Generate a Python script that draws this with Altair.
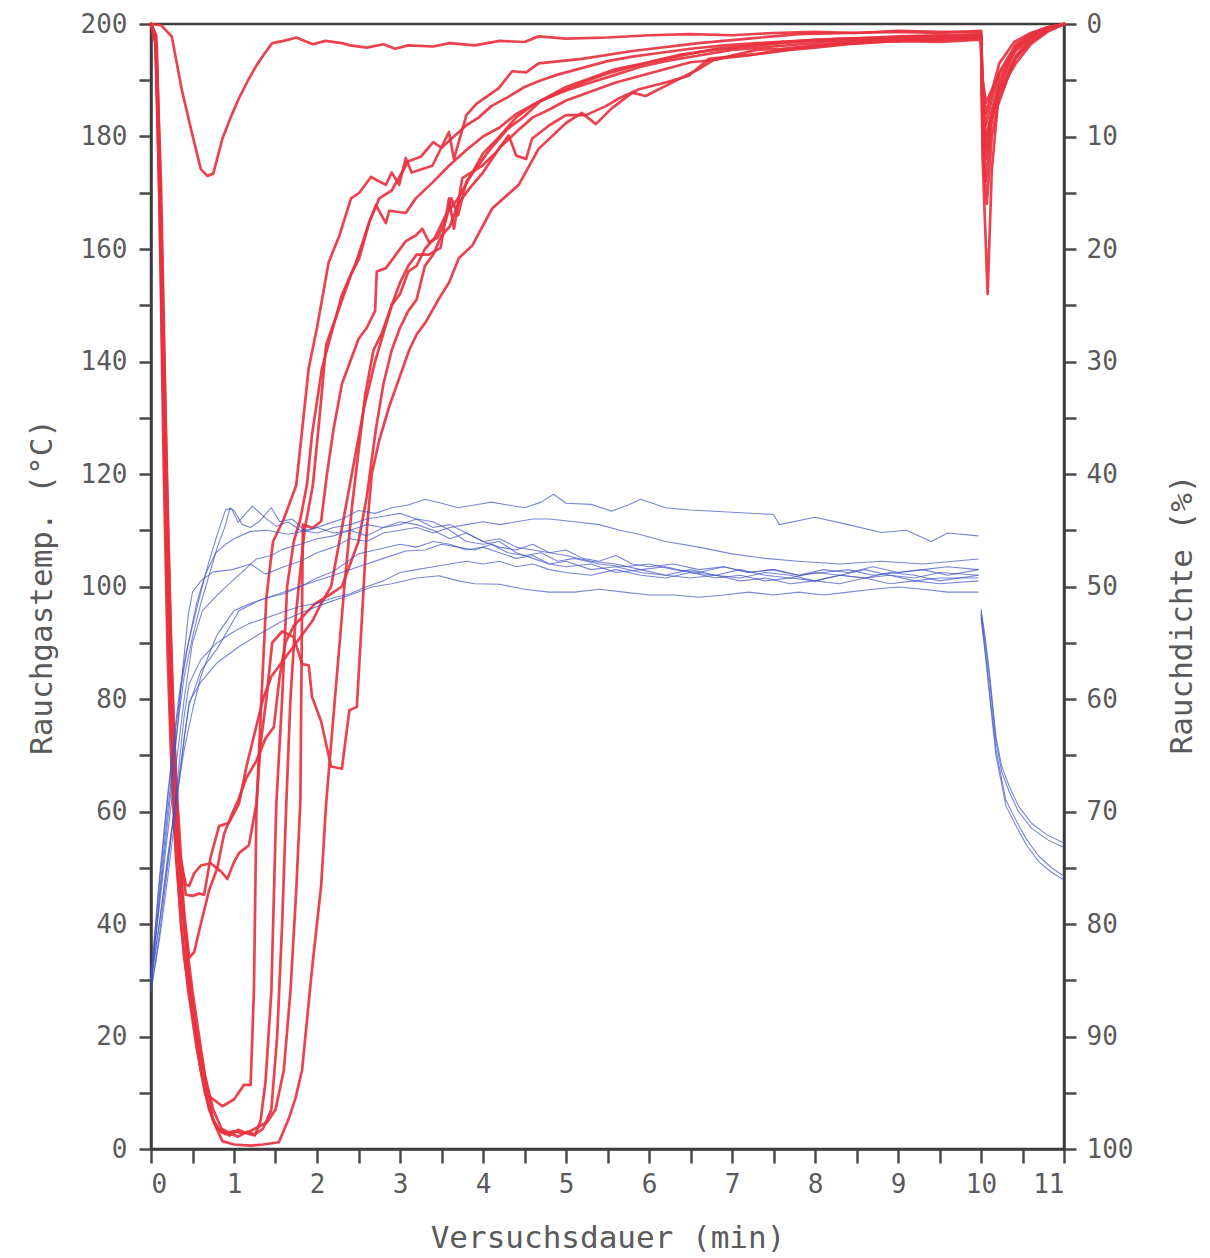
import altair as alt
import pandas as pd

# ---------------- Rauchdichte (%) : red curves (right axis, inverted) ----------------
red_R1 = [(0, 0), (0.12, 0.1), (0.25, 1.1), (0.37, 5.8), (0.49, 9.6), (0.6, 12.9), (0.68, 13.5), (0.75, 13.3),
          (0.86, 10.2), (0.96, 8.3), (1.06, 6.6), (1.17, 5.0), (1.27, 3.7), (1.37, 2.6), (1.46, 1.7), (1.6, 1.5),
          (1.75, 1.2), (1.95, 1.8), (2.1, 1.5), (2.3, 1.7), (2.4, 1.9), (2.6, 2.1), (2.8, 1.8), (2.94, 2.2),
          (3.1, 1.9), (3.4, 2.0), (3.6, 1.7), (3.9, 1.9), (4.2, 1.5), (4.5, 1.6), (4.67, 1.1), (5.0, 1.3),
          (5.5, 1.2), (6.0, 1.0), (6.5, 0.9), (7.0, 1.0), (7.5, 0.8), (8.0, 0.7), (8.5, 0.8), (9.0, 0.6),
          (9.5, 0.7), (10.0, 0.7), (10.02, 5), (10.06, 8), (10.13, 6), (10.22, 3.5), (10.4, 1.6), (10.6, 0.8),
          (10.8, 0.3), (11.0, 0)]

red_M1 = [(0, 0), (0.05, 1), (0.1, 15), (0.15, 38), (0.2, 56), (0.25, 67), (0.3, 74), (0.4, 83), (0.5, 88),
          (0.6, 92), (0.7, 95.3), (0.86, 96.2), (1.0, 95.6), (1.12, 94.3), (1.2, 94.3), (1.24, 86), (1.27, 70),
          (1.33, 60), (1.39, 51), (1.47, 46), (1.6, 44), (1.75, 41), (1.9, 30.6), (2.0, 27), (2.14, 21.2),
          (2.27, 18.8), (2.41, 15.5), (2.51, 15), (2.65, 13.6), (2.83, 14.3), (2.9, 13.2), (2.99, 14.3),
          (3.07, 11.9), (3.14, 13.2), (3.39, 12.6), (3.59, 9.6), (3.65, 12), (3.8, 8.1), (3.92, 7.1),
          (4.19, 5.7), (4.35, 4.2), (4.52, 4.3), (4.67, 3.5), (5.19, 3.1), (5.8, 2.4), (6.6, 1.7), (7.2, 1.3),
          (7.8, 0.9), (8.4, 0.8), (9.0, 0.7), (9.5, 0.8), (10.0, 0.6), (10.02, 9), (10.06, 14), (10.12, 9),
          (10.22, 5.5), (10.4, 2.5), (10.6, 1.2), (10.8, 0.5), (11.0, 0)]

red_M2 = [(0, 0), (0.06, 2), (0.12, 22), (0.18, 45), (0.24, 62), (0.3, 73), (0.36, 80), (0.45, 86), (0.55, 91),
          (0.65, 95), (0.75, 97.5), (0.85, 98.5), (0.95, 98.8), (1.05, 98.3), (1.15, 98.6), (1.25, 98.8),
          (1.32, 97.5), (1.38, 94), (1.45, 86), (1.51, 69.3), (1.58, 60), (1.64, 50), (1.72, 46), (1.8, 44),
          (1.88, 40.9), (1.94, 36.5), (2.06, 30.6), (2.17, 27.6), (2.3, 24.1), (2.47, 21.2), (2.63, 17.6),
          (2.71, 16.1), (2.83, 17.7), (2.87, 16.6), (3.07, 16.8), (3.19, 15.5), (3.39, 14.1), (3.59, 12.6),
          (3.8, 11.2), (4.0, 10), (4.2, 9.2), (4.4, 8), (4.6, 7.2), (4.8, 6.5), (5.0, 5.9), (5.3, 5.2),
          (5.6, 4.5), (5.9, 3.8), (6.2, 3.3), (6.6, 2.8), (7.0, 2.3), (7.5, 2.0), (8.0, 1.7), (8.5, 1.5),
          (9.0, 1.3), (9.5, 1.4), (10.0, 1.2), (10.02, 11), (10.07, 16), (10.13, 10), (10.22, 6.5),
          (10.42, 3), (10.6, 1.5), (10.8, 0.6), (11.0, 0)]

red_M3 = [(0, 0), (0.06, 1), (0.12, 17), (0.18, 40), (0.24, 58), (0.3, 69), (0.37, 77), (0.45, 84), (0.55, 89.5),
          (0.65, 93.5), (0.75, 96.5), (0.85, 98.2), (0.95, 98.6), (1.05, 98.9), (1.15, 98.5), (1.25, 98.7),
          (1.35, 98.2), (1.45, 96.5), (1.52, 90), (1.58, 80), (1.63, 69.3), (1.68, 60), (1.74, 53), (1.78, 50),
          (1.85, 45), (1.95, 41), (2.03, 35), (2.11, 28.5), (2.27, 25.2), (2.41, 22.3), (2.51, 20.8),
          (2.63, 17.6), (2.75, 15.5), (2.9, 14.8), (3.0, 13.5), (3.1, 12.2), (3.25, 11.8), (3.4, 10.5),
          (3.5, 11), (3.65, 10), (3.8, 9), (3.95, 8.3), (4.1, 7.3), (4.3, 6.5), (4.5, 5.6), (4.7, 5),
          (4.9, 4.5), (5.2, 3.9), (5.5, 3.3), (5.8, 2.9), (6.1, 2.6), (6.5, 2.2), (6.9, 1.9), (7.3, 1.7),
          (7.8, 1.5), (8.3, 1.3), (8.8, 1.2), (9.3, 1.1), (10.0, 1.0), (10.02, 8), (10.06, 11), (10.12, 8),
          (10.22, 5), (10.42, 2.2), (10.6, 1), (10.8, 0.4), (11.0, 0)]

red_M4 = [(0, 0), (0.05, 1), (0.1, 12), (0.15, 33), (0.2, 52), (0.26, 64), (0.32, 72), (0.4, 80), (0.5, 86),
          (0.6, 91), (0.66, 94), (0.75, 97.5), (0.86, 99.3), (1.0, 99.6), (1.2, 99.7), (1.35, 99.6),
          (1.54, 99.4), (1.66, 97.3), (1.74, 95.5), (1.82, 93), (1.94, 84), (2.05, 76.6), (2.11, 69.3),
          (2.17, 64), (2.25, 57), (2.33, 50), (2.42, 43), (2.5, 38), (2.58, 33), (2.68, 29), (2.78, 27.5),
          (2.9, 25), (3.0, 24), (3.1, 22), (3.2, 21.5), (3.3, 20), (3.42, 19), (3.55, 17), (3.7, 15.5),
          (3.85, 13.5), (4.0, 11.5), (4.2, 10), (4.4, 8.3), (4.6, 7.2), (4.8, 6.4), (5.0, 5.6), (5.3, 4.8),
          (5.6, 4.0), (6.0, 3.4), (6.4, 2.8), (6.8, 2.2), (7.2, 1.9), (7.6, 1.6), (8.0, 1.4), (8.5, 1.3),
          (9.0, 1.1), (9.5, 1.0), (10.0, 0.9), (10.02, 12), (10.08, 24), (10.13, 13), (10.2, 7.3),
          (10.4, 3.2), (10.6, 1.6), (10.8, 0.6), (11.0, 0)]

red_M5 = [(0, 0), (0.06, 1.5), (0.11, 16), (0.17, 39), (0.23, 57), (0.29, 68), (0.35, 76), (0.42, 82), (0.5, 88),
          (0.6, 93), (0.7, 96.5), (0.8, 98.2), (0.9, 98.6), (1.0, 98.4), (1.1, 98.6), (1.2, 98.4), (1.3, 98),
          (1.4, 97.6), (1.5, 96.5), (1.6, 93), (1.68, 86), (1.75, 77), (1.8, 69), (1.81, 60), (1.82, 52),
          (1.83, 44.5), (1.95, 44.8), (2.05, 44.2), (2.12, 40), (2.2, 36), (2.3, 32), (2.4, 30), (2.5, 28),
          (2.6, 27), (2.7, 25.5), (2.72, 22), (2.83, 21.7), (2.95, 20.5), (3.07, 19.3), (3.19, 18.8),
          (3.27, 18.2), (3.35, 19.4), (3.45, 19), (3.55, 17.5), (3.62, 15.5), (3.7, 17), (3.8, 14),
          (3.95, 12.5), (4.1, 11), (4.3, 9.3), (4.5, 8.2), (4.7, 6.8), (4.95, 6), (5.2, 5.2), (5.5, 4.4),
          (5.8, 3.8), (6.1, 3.2), (6.4, 2.7), (6.8, 2.3), (7.2, 2.0), (7.6, 1.7), (8.0, 1.5), (8.5, 1.4),
          (9.0, 1.3), (9.5, 1.2), (10.0, 1.1), (10.02, 6), (10.06, 9), (10.12, 7), (10.22, 4.3),
          (10.42, 1.8), (10.6, 0.9), (10.8, 0.3), (11.0, 0)]

red_Rb1 = [(0, 0), (0.06, 1.5), (0.12, 18), (0.18, 42), (0.24, 60), (0.3, 70), (0.36, 74.5), (0.42, 76.5),
           (0.46, 76.6), (0.52, 75.5), (0.6, 74.8), (0.72, 74.6), (0.84, 75.3), (0.92, 76), (1.0, 74.5),
           (1.06, 73.7), (1.18, 73), (1.27, 69.3), (1.32, 64), (1.39, 60), (1.46, 55), (1.58, 54),
           (1.72, 54.5), (1.82, 56.9), (1.9, 57), (1.94, 59.8), (2.05, 62), (2.17, 66), (2.3, 66.2),
           (2.39, 61), (2.48, 60.7), (2.54, 53), (2.6, 45), (2.66, 40), (2.75, 37), (2.87, 34), (2.99, 31.5),
           (3.11, 29), (3.2, 27.6), (3.31, 26.5), (3.47, 24.4), (3.59, 23), (3.71, 20.8), (3.87, 19.7),
           (4.11, 16.4), (4.43, 14.3), (4.67, 11.1), (5.0, 8.8), (5.19, 7.9), (5.36, 8.9), (5.55, 7.5),
           (5.8, 6.1), (5.96, 6.4), (6.2, 5.5), (6.6, 4.0), (6.8, 3.1), (7.2, 2.8), (7.6, 2.3), (8.0, 2.0),
           (8.5, 1.6), (9.0, 1.5), (9.5, 1.3), (10.0, 1.2), (10.02, 8), (10.06, 12), (10.13, 8.5),
           (10.22, 5.8), (10.42, 2.8), (10.6, 1.3), (10.8, 0.5), (11.0, 0)]

red_Rb2 = [(0, 0), (0.06, 1), (0.12, 14), (0.18, 36), (0.24, 55), (0.3, 67), (0.36, 74), (0.42, 77.4),
           (0.5, 77.5), (0.58, 77.3), (0.64, 77.4), (0.72, 74), (0.82, 71.3), (0.94, 71), (1.06, 69.3),
           (1.15, 66), (1.25, 63), (1.35, 60), (1.45, 58), (1.55, 57), (1.65, 56), (1.75, 55), (1.85, 54),
           (1.95, 53), (2.05, 51.5), (2.17, 50), (2.27, 46), (2.37, 42), (2.47, 38), (2.57, 34), (2.7, 30),
           (2.8, 27.5), (2.9, 25), (3.0, 23), (3.1, 21.5), (3.2, 20.5), (3.35, 20.5), (3.49, 19.9),
           (3.59, 15.5), (3.65, 18.2), (3.75, 13.7), (3.99, 12.6), (4.16, 11.4), (4.31, 9.9), (4.4, 11.7),
           (4.52, 12), (4.59, 10.2), (4.8, 9), (5.0, 8.1), (5.24, 8.1), (5.48, 7.3), (5.64, 6.6),
           (5.88, 5.8), (6.2, 5.2), (6.48, 4.6), (6.72, 3.1), (7.1, 2.8), (7.4, 2.6), (7.7, 2.3), (8.0, 2.1),
           (8.4, 1.8), (8.8, 1.6), (9.2, 1.5), (9.6, 1.4), (10.0, 1.3), (10.02, 5), (10.06, 7), (10.12, 6),
           (10.22, 4.5), (10.42, 2), (10.6, 1), (10.8, 0.4), (11.0, 0)]

red_Rb3 = [(0, 0), (0.07, 2), (0.13, 20), (0.2, 44), (0.27, 62), (0.34, 73), (0.4, 79), (0.46, 83), (0.52, 82.5),
           (0.6, 80), (0.7, 77), (0.8, 75), (0.88, 72), (0.96, 70.5), (1.05, 69), (1.15, 67), (1.27, 65.5),
           (1.38, 63.5), (1.48, 62.5), (1.55, 58), (1.62, 55), (1.72, 53.5), (1.85, 52.5), (1.98, 51.5),
           (2.1, 51), (2.2, 50.5), (2.3, 50), (2.4, 48), (2.5, 46), (2.6, 42), (2.71, 36), (2.8, 32),
           (2.9, 29), (3.0, 27), (3.1, 25.5), (3.2, 24.5), (3.3, 21.5), (3.4, 20.5), (3.5, 18.8), (3.6, 18),
           (3.7, 16), (3.85, 14.5), (4.0, 13.2), (4.2, 11), (4.4, 9.6), (4.6, 8.3), (4.8, 7.6), (5.0, 6.8),
           (5.3, 6), (5.6, 5.2), (5.9, 4.6), (6.2, 4.0), (6.5, 3.4), (6.8, 3.2), (7.0, 2.8), (7.3, 2.3),
           (7.6, 2.2), (8.0, 1.9), (8.5, 1.7), (9.0, 1.5), (9.5, 1.6), (10.0, 1.4), (10.02, 7), (10.06, 10),
           (10.13, 8), (10.22, 6), (10.42, 3.5), (10.6, 1.8), (10.8, 0.7), (11.0, 0)]

# ---------------- Rauchgastemperatur (°C) : blue curves (left axis) ----------------
blue_B1 = [(0, 30), (0.1, 48), (0.2, 63), (0.3, 76), (0.35, 82), (0.42, 88), (0.5, 93), (0.6, 99), (0.7, 104.5),
           (0.8, 109.3), (0.9, 113.7), (0.97, 113.8), (1.05, 111.4), (1.22, 114.3), (1.37, 112.3), (1.51, 110.7),
           (1.65, 111.5), (1.8, 110), (2.0, 109.5), (2.2, 110.5), (2.4, 111), (2.6, 112), (2.8, 112.5),
           (3.0, 113), (3.2, 112), (3.4, 110.5), (3.6, 111), (3.8, 109.5), (4.0, 108), (4.2, 108.5),
           (4.4, 107), (4.6, 106.5), (4.8, 106), (5.0, 106.5), (5.2, 105), (5.4, 104.5), (5.6, 105.5),
           (5.8, 104), (6.0, 103.5), (6.3, 104), (6.6, 103), (6.9, 103.5), (7.2, 102.5), (7.5, 103),
           (7.8, 102), (8.1, 102.5), (8.4, 103), (8.7, 102), (9.0, 102.5), (9.3, 103), (9.6, 102), (9.97, 103)]

blue_B2 = [(0, 29), (0.1, 45), (0.2, 60), (0.3, 73), (0.4, 84), (0.5, 91), (0.6, 97), (0.7, 102), (0.8, 107),
           (0.9, 111), (0.95, 114), (1.0, 113.5), (1.1, 111), (1.2, 110.5), (1.3, 111.5), (1.45, 114),
           (1.55, 111.5), (1.7, 112), (1.85, 110), (2.0, 110.5), (2.2, 109.5), (2.4, 110), (2.6, 109),
           (2.8, 110.5), (3.0, 111), (3.2, 112), (3.4, 111.5), (3.6, 110), (3.8, 108), (4.0, 107.5),
           (4.2, 108), (4.4, 106), (4.6, 105), (4.8, 104), (5.0, 104.5), (5.3, 103), (5.6, 103.5),
           (5.9, 102.5), (6.2, 102), (6.5, 103), (6.8, 102), (7.1, 101.5), (7.4, 102.5), (7.7, 102),
           (8.0, 101), (8.3, 102), (8.6, 103), (8.9, 102), (9.2, 101.5), (9.5, 102.5), (9.97, 102)]

blue_B3 = [(0, 31), (0.1, 47), (0.2, 62), (0.3, 75), (0.37, 83), (0.45, 90), (0.55, 97), (0.65, 102),
           (0.78, 106), (0.9, 107.5), (1.0, 108.5), (1.2, 109.8), (1.4, 110), (1.65, 109.3), (1.9, 110),
           (2.1, 111), (2.3, 112), (2.5, 113.5), (2.7, 113), (2.9, 114), (3.1, 114.5), (3.3, 115.5),
           (3.5, 114.8), (3.7, 114), (3.9, 114.5), (4.1, 115), (4.3, 114.5), (4.5, 114), (4.7, 115),
           (4.85, 116.4), (5.0, 114.8), (5.3, 114.6), (5.55, 113.4), (5.75, 114.5), (5.9, 115.5), (6.2, 114),
           (6.5, 113.6), (7.0, 113.2), (7.5, 112.8), (7.57, 111), (8.0, 112.3), (8.4, 111), (8.8, 109.6),
           (9.1, 110), (9.4, 108), (9.6, 109.5), (9.97, 109)]

blue_B4 = [(0, 30), (0.1, 44), (0.2, 58), (0.3, 72), (0.38, 85), (0.45, 95), (0.5, 99), (0.6, 101),
           (0.75, 102.6), (0.98, 103), (1.2, 104), (1.38, 102.2), (1.6, 103.5), (1.8, 104.5), (2.0, 106),
           (2.2, 107), (2.4, 108.5), (2.6, 108), (2.8, 109.5), (3.0, 110), (3.2, 110.5), (3.4, 109.5),
           (3.6, 110.5), (3.8, 111), (4.0, 111.5), (4.2, 111), (4.4, 111.5), (4.6, 112), (4.8, 112),
           (5.1, 111.5), (5.4, 111), (5.65, 110), (5.88, 109.3), (6.2, 108), (6.6, 107), (7.0, 105.8),
           (7.4, 105), (7.8, 104.5), (8.3, 104), (8.8, 104.5), (9.3, 104), (9.97, 104.9)]

blue_B5 = [(0, 30), (0.1, 43), (0.2, 56), (0.3, 68), (0.4, 80), (0.5, 90), (0.62, 95.7), (0.8, 98.5),
           (0.98, 101), (1.13, 103), (1.27, 104.9), (1.45, 105.5), (1.58, 106.6), (1.8, 107.5), (2.0, 108.5),
           (2.2, 109), (2.4, 110), (2.6, 111), (2.8, 110.5), (3.0, 111.5), (3.2, 111), (3.4, 110),
           (3.6, 108.5), (3.8, 109.5), (4.0, 108), (4.2, 107), (4.4, 106.5), (4.6, 107.5), (4.8, 106),
           (5.0, 105.5), (5.3, 104.5), (5.6, 104), (5.9, 103), (6.2, 103.5), (6.5, 102.5), (6.8, 102),
           (7.1, 103), (7.4, 102), (7.7, 101.5), (8.0, 102.5), (8.3, 102), (8.6, 101.5), (8.9, 102.5),
           (9.2, 102), (9.5, 101), (9.97, 102)]

blue_B6 = [(0, 29), (0.1, 40), (0.2, 52), (0.3, 62), (0.4, 71), (0.5, 78), (0.6, 84), (0.7, 88), (0.8, 91.5),
           (1.0, 95.7), (1.2, 97), (1.4, 98), (1.6, 98.7), (1.8, 100), (2.0, 101.5), (2.2, 102.7), (2.5, 105.8),
           (2.7, 106.5), (3.0, 107.5), (3.2, 107), (3.4, 108), (3.6, 107.5), (3.8, 106.5), (4.0, 107),
           (4.2, 106), (4.4, 105), (4.6, 105.5), (4.8, 104), (5.0, 103.5), (5.3, 104), (5.6, 102.5),
           (5.9, 103), (6.2, 102), (6.5, 101.5), (6.8, 102), (7.1, 101), (7.4, 101.5), (7.7, 100.5),
           (8.0, 101), (8.3, 100.5), (8.6, 101.5), (8.9, 100.5), (9.2, 101), (9.5, 100.5), (9.97, 101)]

blue_B7 = [(0, 28), (0.1, 38), (0.2, 50), (0.3, 63), (0.4, 77), (0.46, 82.7), (0.6, 87), (0.78, 89.8),
           (1.0, 92), (1.18, 93.4), (1.4, 94.5), (1.6, 95.5), (1.8, 96.5), (2.0, 97), (2.2, 98), (2.4, 98.7),
           (2.6, 100), (2.8, 101), (3.0, 102.5), (3.2, 103), (3.4, 103.5), (3.6, 104), (3.8, 104.5),
           (4.0, 104), (4.2, 104.5), (4.4, 103.5), (4.6, 104), (4.8, 103), (5.0, 102.5), (5.3, 102),
           (5.6, 103), (5.9, 102), (6.2, 101.5), (6.5, 102.5), (6.8, 101.5), (7.1, 102), (7.4, 101),
           (7.7, 101.5), (8.0, 101), (8.3, 102), (8.6, 101.5), (8.9, 102), (9.2, 101), (9.5, 101.5),
           (9.97, 101.5)]

blue_B8 = [(0, 30), (0.1, 40), (0.2, 51), (0.3, 62), (0.4, 73), (0.46, 79), (0.6, 85), (0.8, 89),
           (1.06, 95.7), (1.3, 97.5), (1.5, 98.5), (1.87, 100.4), (2.2, 102), (2.5, 103.5), (2.8, 105),
           (3.07, 106.3), (3.3, 106.5), (3.5, 107.5), (3.7, 107), (3.9, 106.5), (4.1, 107.5), (4.3, 106),
           (4.5, 105.5), (4.7, 106), (4.9, 104.5), (5.1, 105), (5.4, 104), (5.7, 103.5), (6.0, 104),
           (6.3, 103), (6.6, 102.5), (6.9, 103.5), (7.2, 102.5), (7.5, 103), (7.8, 102), (8.1, 103),
           (8.4, 102.5), (8.7, 103.5), (9.0, 102.5), (9.3, 103), (9.6, 103.5), (9.97, 103)]

blue_B9 = [(0, 28), (0.1, 37), (0.2, 48), (0.3, 60), (0.4, 73), (0.46, 79.5), (0.6, 83), (0.8, 86.5),
           (1.06, 89.3), (1.3, 91.5), (1.6, 94), (1.87, 95.7), (2.1, 97), (2.4, 98.5), (2.66, 99.9),
           (2.9, 100.5), (3.2, 101.5), (3.47, 101.9), (3.7, 101), (3.9, 100.5), (4.2, 100.4), (4.5, 99.5),
           (4.8, 99), (5.1, 99), (5.4, 99.5), (5.7, 99), (6.0, 98.5), (6.3, 98.5), (6.6, 98.1), (6.9, 98.5),
           (7.2, 99), (7.5, 98.5), (7.8, 99), (8.1, 98.5), (8.4, 99), (8.7, 99.5), (9.0, 99.9), (9.3, 99.5),
           (9.6, 99), (9.97, 99)]

# cooling after the end of the test (t > 10 min)
blue_D1 = [(10.0, 96), (10.05, 91), (10.1, 85), (10.18, 73.3), (10.25, 68), (10.34, 64.5), (10.45, 61),
           (10.61, 57.9), (10.8, 55.8), (11.0, 54.4)]
blue_D2 = [(10.0, 95.5), (10.05, 90), (10.1, 84), (10.18, 72.5), (10.25, 67), (10.34, 63.5), (10.45, 60),
           (10.61, 57), (10.8, 55), (11.0, 53.6)]
blue_D3 = [(10.0, 95), (10.05, 89), (10.1, 82), (10.18, 71), (10.3, 62), (10.42, 58.5), (10.55, 55),
           (10.7, 52), (10.85, 50), (11.0, 48.5)]
blue_D4 = [(10.0, 94.5), (10.05, 88), (10.1, 81), (10.18, 70), (10.3, 61), (10.42, 57.5), (10.55, 54),
           (10.7, 51), (10.85, 49.2), (11.0, 47.8)]

red_series = {"R1": red_R1, "M1": red_M1, "M2": red_M2, "M3": red_M3, "M4": red_M4, "M5": red_M5,
              "Rb1": red_Rb1, "Rb2": red_Rb2, "Rb3": red_Rb3}
blue_series = {"B1": blue_B1, "B2": blue_B2, "B3": blue_B3, "B4": blue_B4, "B5": blue_B5, "B6": blue_B6,
               "B7": blue_B7, "B8": blue_B8, "B9": blue_B9, "D1": blue_D1, "D2": blue_D2, "D3": blue_D3,
               "D4": blue_D4}

x_ticks = [i * 0.5 for i in range(23)]
temp_ticks = list(range(0, 201, 10))
dens_ticks = list(range(0, 101, 5))


def to_frame(series):
    rows = []
    for name, pts in series.items():
        for i, (t, v) in enumerate(pts):
            rows.append({"series": name, "i": i, "t": t, "v": v})
    return pd.DataFrame(rows)


df_red = to_frame(red_series)
df_blue = to_frame(blue_series)

FONT = "DejaVu Sans Mono"
GREY = "#5a5a5a"
W, H = 913, 1125

x_enc = alt.X("t:Q", scale=alt.Scale(domain=[0, 11], nice=False, zero=False),
              axis=alt.Axis(title="Versuchsdauer (min)", values=x_ticks,
                            labelExpr="datum.value % 1 == 0 ? format(datum.value, 'd') : ''",
                            tickSize=14, labelPadding=8, titlePadding=26))

red = alt.Chart(df_red).mark_line(color="#e8323f", strokeWidth=2.7, opacity=0.92,
                                  strokeJoin="round", strokeCap="round").encode(
    x=x_enc,
    y=alt.Y("v:Q", scale=alt.Scale(domain=[0, 100], reverse=True, nice=False, zero=False),
            axis=alt.Axis(title="Rauchdichte (%)", orient="right", values=dens_ticks,
                          labelExpr="datum.value % 10 == 0 ? datum.label : ''",
                          titleAngle=270, titleX=118, titleY=590, titleAlign="center",
                          titleBaseline="middle", tickSize=12, labelPadding=10)),
    detail="series:N",
    order="i:Q",
)

blue = alt.Chart(df_blue).mark_line(color="#3f54c4", strokeWidth=1.1, opacity=0.7,
                                    strokeJoin="round").encode(
    x=x_enc,
    y=alt.Y("v:Q", scale=alt.Scale(domain=[0, 200], nice=False, zero=False),
            axis=alt.Axis(title="Rauchgastemp. (°C)", orient="left", values=temp_ticks,
                          labelExpr="datum.value % 20 == 0 ? datum.label : ''",
                          tickSize=12, labelPadding=12, titlePadding=22)),
    detail="series:N",
    order="i:Q",
)

chart = alt.layer(red, blue).resolve_scale(y="independent").properties(
    width=W, height=H, padding={"left": 18, "top": 3, "right": 5, "bottom": 4}
).configure_axis(
    grid=False, domainColor="#3c3c3c", domainWidth=2.5, tickColor="#4a4a4a", tickWidth=2.5,
    labelFont=FONT, labelFontSize=26, labelColor=GREY,
    titleFont=FONT, titleFontSize=31, titleColor=GREY, titleFontWeight="normal",
).configure_view(stroke="#3c3c3c", strokeWidth=2.5)

chart.save("out.html", embed_options={"renderer": "svg", "actions": False})
